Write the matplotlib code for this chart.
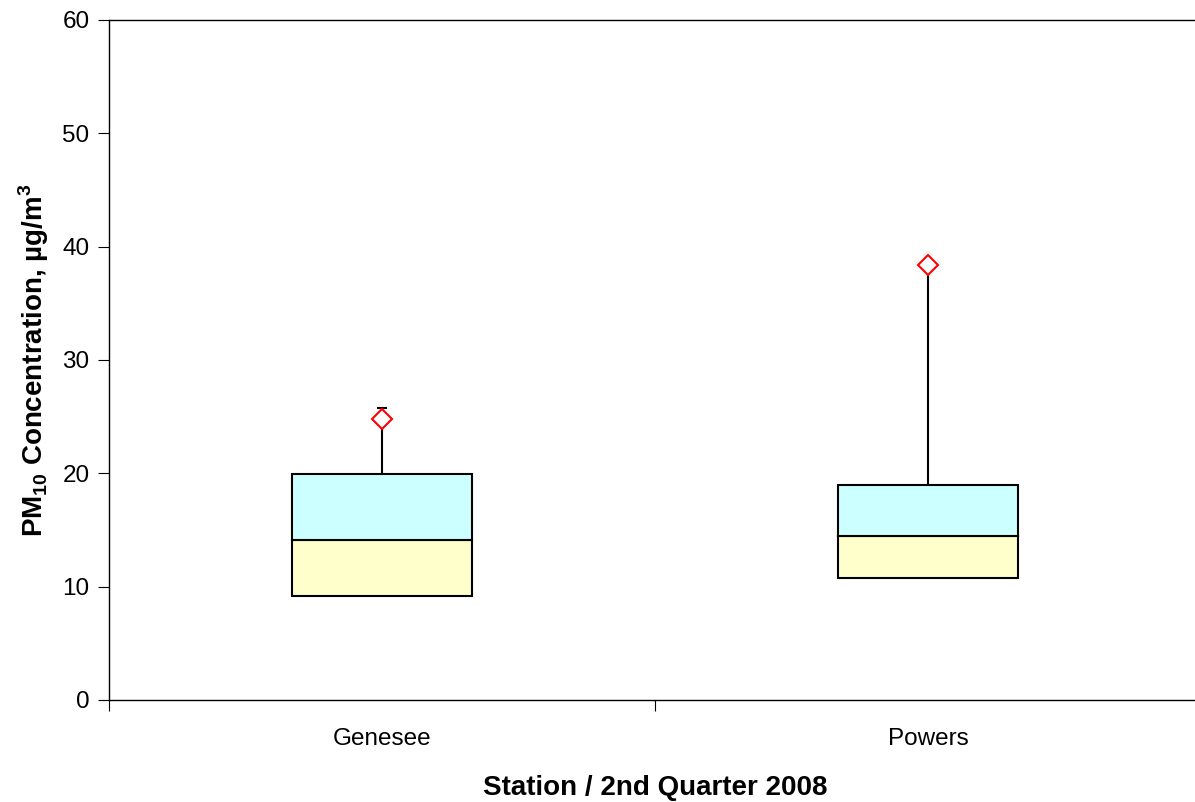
import matplotlib.pyplot as plt

plt.rcParams['font.family'] = ['Liberation Sans', 'DejaVu Sans']
plt.rcParams['mathtext.fontset'] = 'custom'
plt.rcParams['mathtext.rm'] = 'Liberation Sans'
plt.rcParams['mathtext.bf'] = 'Liberation Sans:bold'

# Datos
estaciones = ['Genesee', 'Powers']
q1 = [9.2, 10.8]
mediana = [14.1, 14.5]
q3 = [19.9, 19.0]
maximo = [25.8, 38.4]
media = [24.8, 38.4]

posiciones = [0.5, 1.5]

fig = plt.figure(figsize=(11.95, 8.02), dpi=100)
ax = fig.add_axes([109 / 1195, 102 / 802, 1092 / 1195, 680 / 802])

ancho = 0.33
# Caja inferior (Q1 - mediana) y superior (mediana - Q3)
ax.bar(posiciones, [m - a for m, a in zip(mediana, q1)], bottom=q1, width=ancho,
       color='#FFFFCC', edgecolor='black', linewidth=1.5, zorder=2)
ax.bar(posiciones, [b - m for b, m in zip(q3, mediana)], bottom=mediana, width=ancho,
       color='#CCFFFF', edgecolor='black', linewidth=1.5, zorder=2)

# Bigotes superiores con tope
ax.vlines(posiciones, q3, maximo, color='black', linewidth=1.5, zorder=1)
ax.hlines(maximo, [p - 0.01 for p in posiciones], [p + 0.01 for p in posiciones],
          color='black', linewidth=1.5, zorder=1)

# Media
ax.plot(posiciones, media, linestyle='none', marker='D', markersize=10,
        markerfacecolor='white', markeredgecolor='red', markeredgewidth=1.5, zorder=3)

ax.set_xlim(0, 2)
ax.set_ylim(0, 60)
ax.set_yticks(range(0, 61, 10))
ax.set_xticks([0, 1, 2])
ax.set_xticklabels([])
ax.set_xticks(posiciones, minor=True)
ax.set_xticklabels(estaciones, minor=True)
ax.tick_params(axis='x', which='minor', length=0, pad=20, labelsize=17.5)
ax.tick_params(axis='x', which='major', length=8, direction='out')
ax.tick_params(axis='y', length=8, direction='out', labelsize=17.5, pad=6)

for s in ax.spines.values():
    s.set_linewidth(1.0)

ax.set_ylabel(r'PM$_{\mathbf{10}}$ Concentration, µg/m$^{\mathbf{3}}$',
              fontsize=20, fontweight='bold', labelpad=8)
ax.set_xlabel('Station / 2nd Quarter 2008', fontsize=20, fontweight='bold', labelpad=18)

fig.savefig('out.png', dpi=100)
